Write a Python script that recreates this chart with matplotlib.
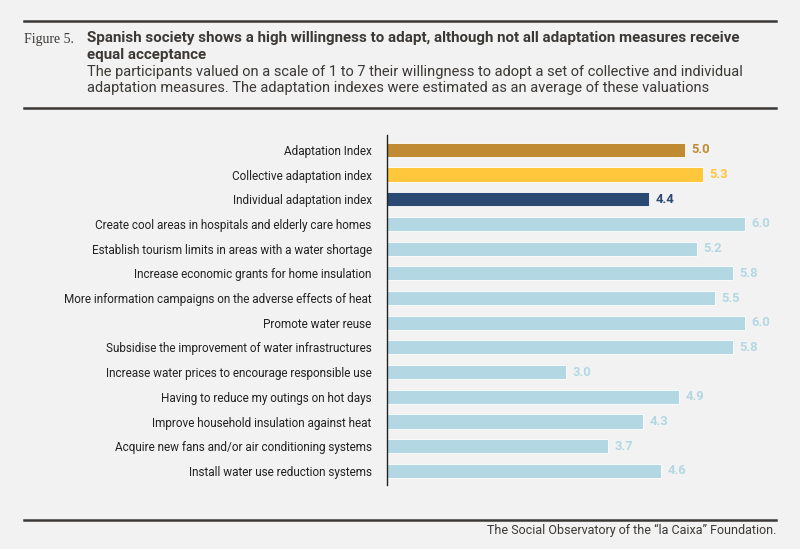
import matplotlib
matplotlib.use("Agg")
import matplotlib.pyplot as plt
from matplotlib.lines import Line2D

plt.rcParams['font.family'] = ['Roboto', 'DejaVu Sans']

labels = [
    "Adaptation Index",
    "Collective adaptation index",
    "Individual adaptation index",
    "Create cool areas in hospitals and elderly care homes",
    "Establish tourism limits in areas with a water shortage",
    "Increase economic grants for home insulation",
    "More information campaigns on the adverse effects of heat",
    "Promote water reuse",
    "Subsidise the improvement of water infrastructures",
    "Increase water prices to encourage responsible use",
    "Having to reduce my outings on hot days",
    "Improve household insulation against heat",
    "Acquire new fans and/or air conditioning systems",
    "Install water use reduction systems",
]
values = [5.0, 5.3, 4.4, 6.0, 5.2, 5.8, 5.5, 6.0, 5.8, 3.0, 4.9, 4.3, 3.7, 4.6]
colors = ["#c08a32", "#ffc73b", "#2a4a73"] + ["#b3d8e3"] * 11

bg = "#f2f2f2"
dark = "#3b3835"
W, H = 800, 549

fig = plt.figure(figsize=(8, 5.49), dpi=100, facecolor=bg)

# axes placed in pixel coords
left, right, top, bottom = 387, 776, 135, 485
ax = fig.add_axes([left / W, 1 - bottom / H, (right - left) / W, (bottom - top) / H])
ax.set_facecolor(bg)

y = list(range(len(labels)))
ax.barh(y, values, height=0.57, color=colors, edgecolor="#ffffff", linewidth=0.6)
ax.set_xlim(0, (right - left) / 59.6)
ax.set_ylim(len(labels) - 1 + 0.57, -0.6)
ax.set_yticks(y)
ax.set_yticklabels(labels, fontsize=8.45, color="#222222")
ax.tick_params(axis='y', length=0, pad=11)
ax.set_xticks([])
for s in ["top", "right", "bottom"]:
    ax.spines[s].set_visible(False)
ax.spines["left"].set_color("#222222")
ax.spines["left"].set_linewidth(1)

for yi, v, c in zip(y, values, colors):
    ax.text(v + 0.11, yi, f"{v:.1f}", va="center", ha="left",
            fontsize=9.4, fontweight="bold", color=c)

# header / footer rules
for yy in [21, 108, 520]:
    fig.add_artist(Line2D([24 / W, 776 / W], [1 - yy / H, 1 - yy / H],
                          color=dark, lw=1.8))

fig.text(24 / W, 1 - 40 / H, "Figure 5.", family=["Liberation Serif", "DejaVu Serif"],
         fontsize=10, color=dark, va="center", ha="left")
fig.text(87 / W, 1 - 38 / H,
         "Spanish society shows a high willingness to adapt, although not all adaptation measures receive",
         fontsize=10.9, fontweight="bold", color=dark, va="center", ha="left")
fig.text(87 / W, 1 - 55 / H, "equal acceptance",
         fontsize=10.9, fontweight="bold", color=dark, va="center", ha="left")
fig.text(87 / W, 1 - 72 / H,
         "The participants valued on a scale of 1 to 7 their willingness to adopt a set of collective and individual",
         fontsize=10.5, color=dark, va="center", ha="left")
fig.text(87 / W, 1 - 88 / H,
         "adaptation measures. The adaptation indexes were estimated as an average of these valuations",
         fontsize=10.5, color=dark, va="center", ha="left")

fig.text(776 / W, 1 - 530 / H, "The Social Observatory of the \u201cla Caixa\u201d Foundation.",
         fontsize=9.0, color=dark, va="center", ha="right")

fig.savefig("out.png", dpi=100, facecolor=bg)
